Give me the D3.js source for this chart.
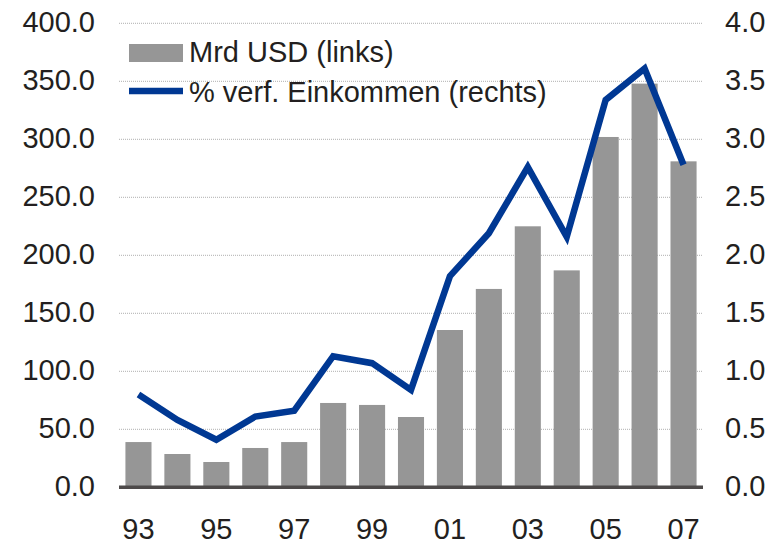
<!DOCTYPE html>
<html><head><meta charset="utf-8">
<script src="https://cdn.jsdelivr.net/npm/d3@7"></script>
<style>body{margin:0;background:#fff}svg{display:block}text{font-family:"Liberation Sans",Arial,sans-serif;fill:#231f20}</style>
</head><body>
<svg id="c" width="778" height="544"></svg>
<script>
const years = ["93","94","95","96","97","98","99","00","01","02","03","04","05","06","07"];
const barValues = [39,28.7,21.8,33.9,39,72.7,71,60.6,135.6,171,225,187,302,348,281];
const lineValues = [0.80,0.58,0.41,0.61,0.66,1.13,1.07,0.84,1.82,2.19,2.76,2.16,3.34,3.61,2.78];
const leftTicks = [0,50,100,150,200,250,300,350,400];
const rightTicks = [0,0.5,1,1.5,2,2.5,3,3.5,4];
const xLabels = ["93","95","97","99","01","03","05","07"];
const legendLabels = ["Mrd USD (links)","% verf. Einkommen (rechts)"];

const svg = d3.select("#c");
const L = 119, R = 703, T = 23.3, B = 487.3;
const x = d3.scaleBand().domain(years).range([L,R]).paddingInner(0.33).paddingOuter(0.165);
const yL = d3.scaleLinear().domain([0,400]).range([B,T]);
const yR = d3.scaleLinear().domain([0,4]).range([B,T]);

// gridlines
svg.append("g").selectAll("line").data(leftTicks.filter(d=>d>0)).join("line")
  .attr("x1",L).attr("x2",R).attr("y1",d=>yL(d)).attr("y2",d=>yL(d))
  .attr("stroke","#b0b0b0").attr("stroke-width",1).attr("stroke-dasharray","1,1");

// bars
svg.append("g").selectAll("rect").data(barValues).join("rect")
  .attr("x",(d,i)=>x(years[i])).attr("width",x.bandwidth())
  .attr("y",d=>yL(d)).attr("height",d=>B-yL(d)).attr("fill","#969696");

// baseline
svg.append("line").attr("x1",L).attr("x2",R).attr("y1",B).attr("y2",B)
  .attr("stroke","#4d4a4a").attr("stroke-width",3.5);

// line
const line = d3.line().x((d,i)=>x(years[i])+x.bandwidth()/2).y(d=>yR(d));
svg.append("path").datum(lineValues).attr("d",line).attr("fill","none")
  .attr("stroke","#003893").attr("stroke-width",6.5).attr("stroke-linejoin","miter");

// left axis
const fs = 29;
svg.append("g").selectAll("text").data(leftTicks).join("text")
  .attr("x",95).attr("y",d=>yL(d)+9).attr("text-anchor","end").attr("font-size",fs)
  .text(d=>d3.format(".1f")(d));
// right axis
svg.append("g").selectAll("text").data(rightTicks).join("text")
  .attr("x",725).attr("y",d=>yR(d)+9).attr("text-anchor","start").attr("font-size",fs)
  .text(d=>d3.format(".1f")(d));
// x labels
svg.append("g").selectAll("text").data(xLabels).join("text")
  .attr("x",d=>x(d)+x.bandwidth()/2).attr("y",538.5).attr("text-anchor","middle").attr("font-size",fs)
  .text(d=>d);

// legend
const lg = svg.append("g");
lg.append("rect").attr("x",129).attr("y",44).attr("width",54).attr("height",18).attr("fill","#969696");
lg.append("line").attr("x1",129).attr("x2",183).attr("y1",91).attr("y2",91).attr("stroke","#003893").attr("stroke-width",6.5);
lg.append("text").attr("x",189).attr("y",62).attr("font-size",fs).text(legendLabels[0]);
lg.append("text").attr("x",189).attr("y",102).attr("font-size",fs).text(legendLabels[1]);
</script>
</body></html>
